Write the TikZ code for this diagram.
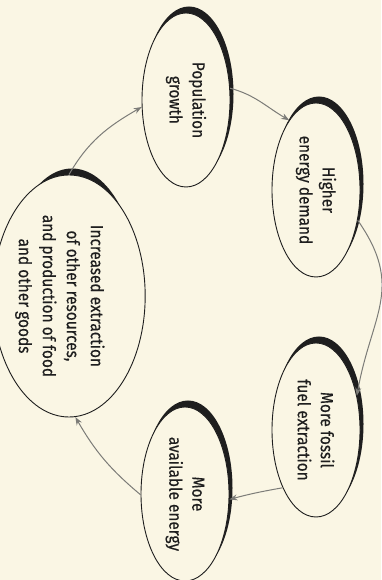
\documentclass[tikz,border=0pt]{standalone}
\usepackage{fontspec}
\setmainfont{Fira Sans}[FakeStretch=0.88,FakeBold=0.4]
\usepackage{tikz}
\usetikzlibrary{arrows.meta}
\usetikzlibrary{shapes.geometric}
\usetikzlibrary{backgrounds}
\definecolor{paper}{HTML}{FAF6E4}
\definecolor{ink}{HTML}{1E1E1E}
\definecolor{arrowgray}{HTML}{7C7C78}

\begin{document}
\begin{tikzpicture}[x=1pt,y=1pt,
    bubble/.style={ellipse,draw=ink,line width=.9pt,fill=paper,rotate=-90,
      minimum width=174pt,minimum height=88pt,inner sep=0pt,align=center,
      font=\fontsize{17.5}{23}\selectfont,text=ink},
    link/.style={draw=arrowgray,line width=1pt,-{Stealth[length=8pt,width=6pt]}}]
      \useasboundingbox (0,0) rectangle (381,580);
      %% the five stages
      \node[bubble] (pop) at (186,480) {Population\\growth};
      \node[bubble] (high) at (316,390) {Higher\\energy demand};
      \node[bubble] (fossil) at (316,150) {More fossil\\fuel extraction};
      \node[bubble] (avail) at (185,86) {More\\available energy};
      \node[bubble,minimum width=242pt,minimum height=132pt,
        font=\fontsize{17.5}{24}\selectfont] (incr) at (69,284)
        {\mbox{}\\[8pt]Increased extraction\\of other resources,\\and production of food\\and other goods};
      %% paper and the dark rims
      \begin{scope}[on background layer]
        \fill[paper] (0,0) rectangle (381,580);
        \foreach \n in {pop,high,fossil,avail}
          \fill[ink] ([shift={(3,6)}]\n.center) ellipse (44.5 and 87.5);
        \fill[ink] ([shift={(3,6)}]incr.center) ellipse (66.5 and 121.5);
      \end{scope}
      %% the loop
      \draw[link] (pop.105) to[out=-15,in=150] (high.201);
      \draw[link] (high.54) to[out=-55,in=80,looseness=1.2] (fossil.130);
      \draw[link] (fossil.330) to[out=190,in=15] (avail.83);
      \draw[link] (avail.271) to[out=140,in=-60] (incr.3);
      \draw[link] (incr.west) to[out=60,in=210] (pop.279);
    \end{tikzpicture}
\end{document}
